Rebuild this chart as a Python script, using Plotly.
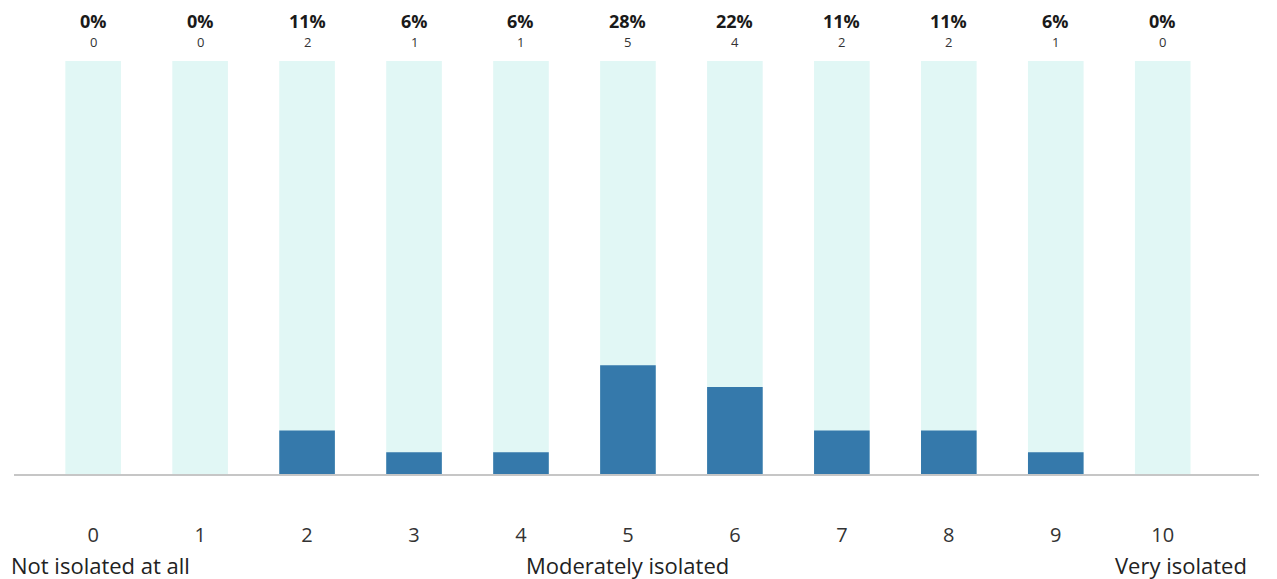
import plotly.graph_objects as go

categories = ["0", "1", "2", "3", "4", "5", "6", "7", "8", "9", "10"]
counts = [0, 0, 2, 1, 1, 5, 4, 2, 2, 1, 0]
percent_labels = ["0%", "0%", "11%", "6%", "6%", "28%", "22%", "11%", "11%", "6%", "0%"]
track = [19] * len(categories)
scale_labels = ["Not isolated at all", "Moderately isolated", "Very isolated"]

FONT = "Open Sans"
x_idx = list(range(len(categories)))

fig = go.Figure()
fig.add_trace(go.Bar(x=x_idx, y=track, marker=dict(color="#e1f7f5", line=dict(width=0)),
                     width=0.52, hoverinfo="skip", showlegend=False))
fig.add_trace(go.Bar(x=x_idx, y=counts, marker=dict(color="#3579ab", line=dict(width=0)),
                     width=0.52, showlegend=False))

annotations = []
for i, (p, c, t) in enumerate(zip(percent_labels, counts, track)):
    annotations.append(dict(x=i, y=t, xref="x", yref="y", text=f"<b>{p}</b>", showarrow=False,
                            yshift=40, font=dict(family=FONT, size=18, color="#1a1a1a")))
    annotations.append(dict(x=i, y=t, xref="x", yref="y", text=str(c), showarrow=False,
                            yshift=19, font=dict(family=FONT, size=13, color="#333333")))

sub_font = dict(family=FONT, size=22, color="#222222")
annotations.append(dict(x=0, y=0, xref="paper", yref="paper", text=scale_labels[0], showarrow=False,
                        xanchor="left", yanchor="middle", xshift=-5, yshift=-91, font=sub_font))
annotations.append(dict(x=5, y=0, xref="x", yref="paper", text=scale_labels[1], showarrow=False,
                        xanchor="center", yanchor="middle", yshift=-91, font=sub_font))
annotations.append(dict(x=1, y=0, xref="paper", yref="paper", text=scale_labels[2], showarrow=False,
                        xanchor="right", yanchor="middle", xshift=-10, yshift=-91, font=sub_font))

fig.update_layout(
    width=1277, height=579,
    margin=dict(l=14, r=18, t=0, b=105),
    paper_bgcolor="white", plot_bgcolor="white",
    barmode="overlay",
    annotations=annotations,
    xaxis=dict(tickmode="array", tickvals=x_idx, ticktext=categories, range=[-0.74, 10.9],
               showline=True, linecolor="#c6c6c6", linewidth=2, showgrid=False, zeroline=False,
               ticks="", ticklabelstandoff=42,
               tickfont=dict(family=FONT, size=20, color="#333333")),
    yaxis=dict(range=[0, 21.8], visible=False, showgrid=False, zeroline=False),
)

fig.write_html("out.html")
